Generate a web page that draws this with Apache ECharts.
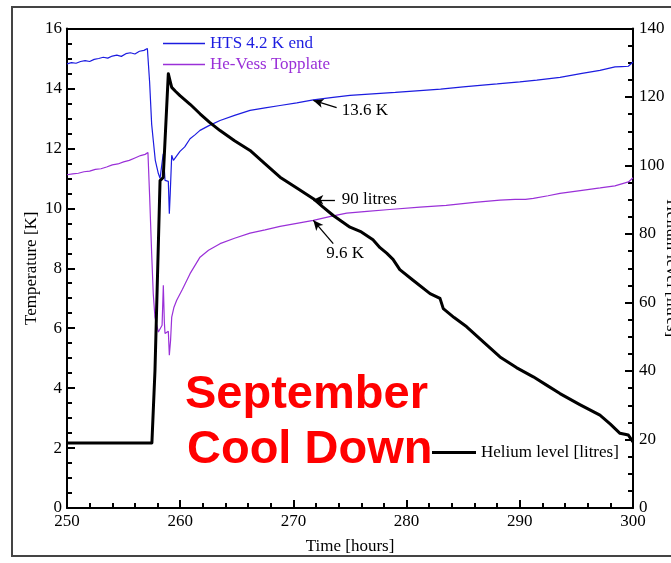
<!DOCTYPE html>
<html>
<head>
<meta charset="utf-8">
<title>September Cool Down</title>
<script src="https://cdn.jsdelivr.net/npm/echarts@6/dist/echarts.min.js"></script>
<style>
  html, body { margin: 0; padding: 0; background: #fff; }
  #chart { width: 671px; height: 563px; }
</style>
</head>
<body>
<div id="chart"></div>
<script>
// HTS 4.2 K end temperature [hours, K]
const htsSeries = [
  [250, 14.82], [250.4, 14.86], [250.8, 14.84], [251.2, 14.9], [251.6, 14.93], [252.0, 14.9],
  [252.4, 14.97], [252.8, 15.0], [253.2, 15.04], [253.6, 15.01], [254.0, 15.08], [254.4, 15.11],
  [254.8, 15.07], [255.2, 15.16], [255.6, 15.19], [256.0, 15.15], [256.4, 15.24], [256.8, 15.27],
  [257.1, 15.33], [257.2, 15.3], [257.3, 14.2], [257.48, 12.8], [257.62, 12.27], [257.8, 11.6],
  [258.07, 11.16], [258.22, 11.0], [258.37, 10.99], [258.5, 11.82], [258.57, 11.5], [258.66, 10.93],
  [258.81, 10.95], [258.95, 10.9], [259.04, 9.82], [259.12, 10.5], [259.25, 11.77], [259.4, 11.6],
  [259.54, 11.62], [259.69, 11.75], [259.98, 11.9], [260.4, 12.05], [260.87, 12.32], [261.3, 12.45],
  [261.75, 12.6], [262.5, 12.75], [263.52, 12.93], [264.8, 13.1], [266.17, 13.27], [267.5, 13.35],
  [268.82, 13.43], [270.3, 13.52], [271.76, 13.62], [273.5, 13.7], [275.0, 13.77], [277.0, 13.82],
  [279.0, 13.87], [281.18, 13.93], [283.0, 13.98], [285.0, 14.05], [286.48, 14.1], [288.0, 14.15],
  [290.0, 14.22], [291.5, 14.28], [293.55, 14.37], [295.5, 14.5], [297.08, 14.6], [298.41, 14.72],
  [299.0, 14.73], [299.59, 14.74], [300, 14.88]
];

// He-Vess top plate temperature [hours, K]
const topplateSeries = [
  [250, 11.12], [250.5, 11.15], [251.0, 11.17], [251.5, 11.22], [252.0, 11.24], [252.5, 11.3],
  [253.0, 11.32], [253.5, 11.38], [254.0, 11.45], [254.5, 11.48], [255.0, 11.55], [255.5, 11.6],
  [256.0, 11.68], [256.5, 11.76], [256.9, 11.8], [257.15, 11.86], [257.3, 10.4], [257.48, 8.48],
  [257.62, 7.15], [257.77, 6.37], [258.07, 5.87], [258.22, 5.82], [258.4, 6.1], [258.51, 7.43],
  [258.6, 6.2], [258.66, 5.82], [258.81, 5.85], [258.95, 5.9], [259.04, 5.1], [259.15, 5.6],
  [259.25, 6.37], [259.45, 6.7], [259.69, 6.93], [260.2, 7.3], [260.87, 7.82], [261.75, 8.37],
  [262.5, 8.6], [263.52, 8.82], [264.8, 9.0], [266.17, 9.17], [267.5, 9.28], [268.82, 9.4],
  [270.3, 9.5], [271.76, 9.6], [273.2, 9.72], [274.71, 9.84], [276.5, 9.9], [278.5, 9.96],
  [281.18, 10.04], [283.5, 10.1], [286.0, 10.2], [288.25, 10.27], [289.58, 10.3], [290.5, 10.3],
  [291.2, 10.33], [292.5, 10.42], [293.55, 10.5], [295.5, 10.6], [297.1, 10.68], [298.4, 10.75],
  [299.6, 10.88], [300, 11.02]
];

// Helium level [hours, litres]
const heliumSeries = [
  [250, 19], [257.5, 19], [257.77, 40], [258.22, 95.6], [258.37, 95.5], [258.5, 96.5],
  [258.66, 97], [258.95, 126.8], [259.04, 127], [259.12, 124.5], [259.25, 122.8], [259.6, 121.6],
  [259.98, 120.4], [260.9, 117.8], [261.75, 115.1], [262.6, 112.6], [263.52, 110.2], [264.8, 107.2],
  [266.17, 104.4], [267.5, 100.5], [268.82, 96.6], [270.3, 93.4], [271.76, 90.3], [272.6, 87.9],
  [273.52, 85.4], [275.0, 82], [276.0, 80.6], [277.03, 78.3], [277.65, 76.0], [278.24, 74.4],
  [278.8, 72.6], [279.4, 69.6], [280.57, 66.5], [282.07, 62.6], [282.95, 61.2], [283.12, 60.8],
  [283.24, 58.2], [284.2, 55.6], [285.31, 52.9], [286.8, 48.4], [288.25, 44.1], [289.7, 41.0],
  [291.19, 38.3], [292.4, 35.8], [293.55, 33.4], [295.3, 30.2], [297.08, 27.1], [298.0, 24.5],
  [298.85, 21.8], [299.59, 21.3], [300, 19.3]
];

// Axis ranges and tick steps
const timeRange = [250, 300, 10];
const tempRange = [0, 16, 2];
const heliumRange = [0, 140, 20];

// Point annotations: [hour, value, label]
const htsNote = [271.76, 13.6, '13.6 K'];
const topplateNote = [271.76, 9.6, '9.6 K'];
const heliumNote = [271.76, 90, '90 litres'];

const SERIF = 'Liberation Serif, Times New Roman, serif';
const BLUE = '#1c1ce0';
const PURPLE = '#9a30d8';

const chart = echarts.init(document.getElementById('chart'), null, { renderer: 'canvas' });

const tickStyle = (len) => ({ show: true, inside: true, length: len, lineStyle: { color: '#000', width: 2 } });

function noteArrow(note, dx, dy) {
  return {
    silent: true,
    symbol: ['none', 'arrow'],
    symbolSize: [7, 10],
    lineStyle: { color: '#000', width: 1.3, type: 'solid' },
    label: { show: false },
    data: [[
      { coord: [note[0] + dx, note[1] + dy] },
      { coord: [note[0], note[1]] }
    ]]
  };
}

const option = {
  animation: false,
  backgroundColor: '#fff',
  grid: { left: 67, right: 38, top: 28.5, bottom: 55, outerBoundsMode: 'none' },
  legend: [
    {
      orient: 'vertical', left: 163, top: 35, padding: 0, itemGap: 4,
      icon: 'rect', itemWidth: 42, itemHeight: 1.5,
      textStyle: { fontFamily: SERIF, fontSize: 17 },
      data: [
        { name: 'HTS 4.2 K end', textStyle: { color: BLUE } },
        { name: 'He-Vess Topplate', textStyle: { color: PURPLE } }
      ]
    },
    {
      left: 432, top: 444, padding: 0,
      icon: 'rect', itemWidth: 44, itemHeight: 3,
      textStyle: { fontFamily: SERIF, fontSize: 17, color: '#000' },
      data: [{ name: 'Helium level [litres]' }]
    }
  ],
  xAxis: [
    {
      type: 'value', min: timeRange[0], max: timeRange[1], interval: timeRange[2],
      name: 'Time [hours]', nameLocation: 'middle', nameGap: 30, nameMoveOverlap: false,
      nameTextStyle: { fontFamily: SERIF, fontSize: 17, color: '#000' },
      axisLine: { show: true, onZero: false, lineStyle: { color: '#000', width: 2 } },
      axisTick: tickStyle(8),
      minorTick: { show: true, splitNumber: 5, length: 5, lineStyle: { color: '#000', width: 2 } },
      splitLine: { show: false },
      axisLabel: { fontFamily: SERIF, fontSize: 17, color: '#000', margin: 5 }
    },
    {
      type: 'value', position: 'top', min: timeRange[0], max: timeRange[1],
      axisLine: { show: true, onZero: false, lineStyle: { color: '#000', width: 2 } },
      axisTick: { show: false }, axisLabel: { show: false }, splitLine: { show: false }
    }
  ],
  yAxis: [
    {
      type: 'value', min: tempRange[0], max: tempRange[1], interval: tempRange[2],
      name: 'Temperature [K]', nameLocation: 'middle', nameGap: 27, nameMoveOverlap: false,
      nameTextStyle: { fontFamily: SERIF, fontSize: 17, color: '#000' },
      axisLine: { show: true, onZero: false, lineStyle: { color: '#000', width: 2 } },
      axisTick: tickStyle(8),
      minorTick: { show: true, splitNumber: 4, length: 5, lineStyle: { color: '#000', width: 2 } },
      splitLine: { show: false },
      axisLabel: { fontFamily: SERIF, fontSize: 17, color: '#000', margin: 5 }
    },
    {
      type: 'value', position: 'right', min: heliumRange[0], max: heliumRange[1], interval: heliumRange[2],
      name: 'Helium level [litres]', nameLocation: 'middle', nameGap: 30, nameRotate: -90, nameMoveOverlap: false,
      nameTextStyle: { fontFamily: SERIF, fontSize: 17, color: '#000' },
      axisLine: { show: true, onZero: false, lineStyle: { color: '#000', width: 2 } },
      axisTick: tickStyle(8),
      minorTick: { show: true, splitNumber: 4, length: 5, lineStyle: { color: '#000', width: 2 } },
      splitLine: { show: false },
      axisLabel: { fontFamily: SERIF, fontSize: 17, color: '#000', margin: 6 }
    }
  ],
  series: [
    {
      name: 'HTS 4.2 K end', type: 'line', xAxisIndex: 0, yAxisIndex: 0,
      data: htsSeries, showSymbol: false, color: BLUE,
      lineStyle: { width: 1.2, color: BLUE },
      markLine: noteArrow(htsNote, 2.06, -0.24),
      markPoint: {
        silent: true, symbol: 'circle', symbolSize: 0,
        label: { show: true, position: 'right', distance: 0, fontFamily: SERIF, fontSize: 17, color: '#000', formatter: htsNote[2] },
        data: [{ coord: [274.27, 13.27] }]
      }
    },
    {
      name: 'He-Vess Topplate', type: 'line', xAxisIndex: 0, yAxisIndex: 0,
      data: topplateSeries, showSymbol: false, color: PURPLE,
      lineStyle: { width: 1.2, color: PURPLE },
      markLine: noteArrow(topplateNote, 1.76, -0.78),
      markPoint: {
        silent: true, symbol: 'circle', symbolSize: 0,
        label: { show: true, position: 'inside', fontFamily: SERIF, fontSize: 17, color: '#000', formatter: topplateNote[2] },
        data: [{ coord: [274.56, 8.5] }]
      }
    },
    {
      name: 'Helium level [litres]', type: 'line', xAxisIndex: 0, yAxisIndex: 1,
      data: heliumSeries, showSymbol: false, color: '#000',
      lineStyle: { width: 3, color: '#000', join: 'round' },
      markLine: noteArrow(heliumNote, 1.91, 0),
      markPoint: {
        silent: true, symbol: 'circle', symbolSize: 0,
        label: { show: true, position: 'right', distance: 0, fontFamily: SERIF, fontSize: 17, color: '#000', formatter: heliumNote[2] },
        data: [{ coord: [274.27, 90] }]
      }
    }
  ],
  graphic: [
    {
      type: 'rect', silent: true, z: -1,
      shape: { x: 12, y: 7, width: 700, height: 549 },
      style: { fill: 'none', stroke: '#444', lineWidth: 2 }
    },
    {
      type: 'text', silent: true, z: 100,
      style: {
        x: 185, y: 395, text: 'September', textAlign: 'left', textVerticalAlign: 'middle',
        font: 'bold 47px "Liberation Sans", Arial, sans-serif', fill: '#ff0000'
      }
    },
    {
      type: 'text', silent: true, z: 100,
      style: {
        x: 187, y: 450, text: 'Cool Down', textAlign: 'left', textVerticalAlign: 'middle',
        font: 'bold 47px "Liberation Sans", Arial, sans-serif', fill: '#ff0000'
      }
    }
  ]
};

chart.setOption(option);
</script>
</body>
</html>
